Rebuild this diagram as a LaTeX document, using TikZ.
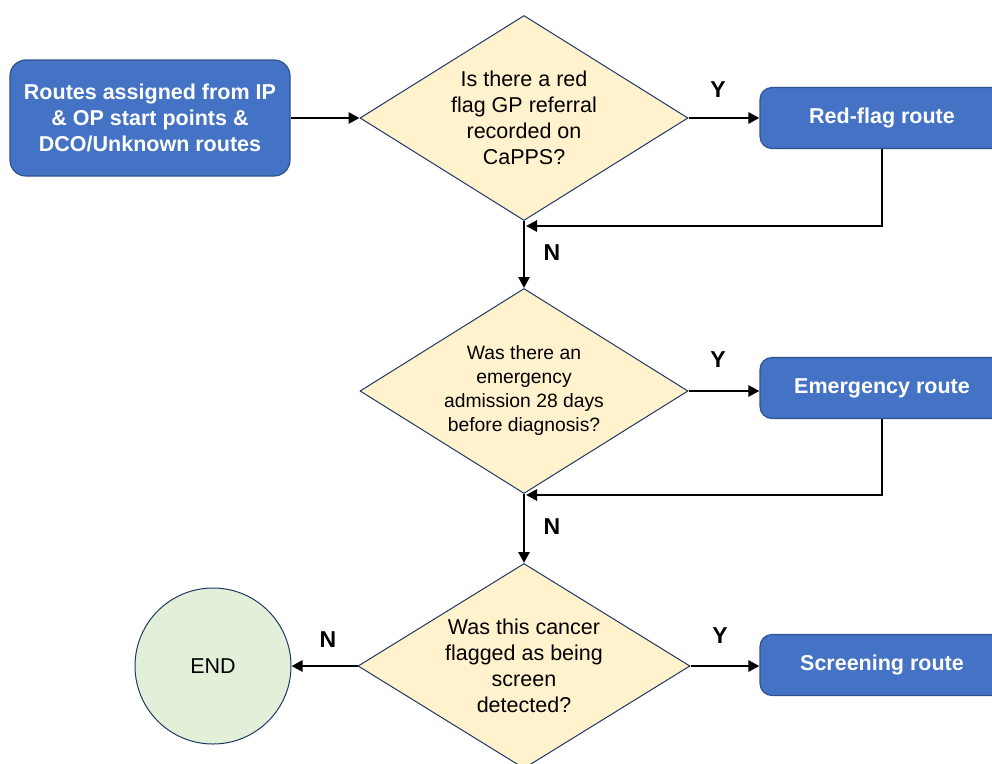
\documentclass[tikz,border=0pt]{standalone}
\usepackage{fontspec}
\setmainfont{Liberation Sans}
\usetikzlibrary{shapes.geometric,arrows.meta}
\definecolor{boxblue}{HTML}{4472C4}
\definecolor{boxedge}{HTML}{2F528F}
\definecolor{qfill}{HTML}{FFF2CC}
\definecolor{qedge}{HTML}{203864}
\definecolor{endfill}{HTML}{E2F0D9}

\begin{document}
\begin{tikzpicture}[x=1pt,y=-1pt,
  routebox/.style={draw=boxedge, line width=1.2pt, fill=boxblue, rounded corners=12pt,
    text=white, font=\fontsize{21.5}{26}\selectfont\bfseries, align=center,
    inner sep=0pt, minimum width=244pt, minimum height=61pt},
  startbox/.style={routebox, rounded corners=16pt, minimum width=280pt, minimum height=116pt},
  question/.style={diamond, draw=qedge, line width=1pt, fill=qfill, aspect=1.6,
    inner sep=0pt, minimum width=328pt, minimum height=205pt, align=center,
    font=\fontsize{21.5}{26}\selectfont},
  smallq/.style={question, font=\fontsize{19.3}{24}\selectfont},
  endnode/.style={circle, draw=qedge, line width=1pt, fill=endfill, minimum size=156pt,
    inner sep=0pt, font=\fontsize{21.5}{26}\selectfont},
  conn/.style={line width=2.7pt, -{Triangle[length=11pt,width=11pt]}},
  lbl/.style={font=\fontsize{23}{26}\selectfont\bfseries}
]
\useasboundingbox (0,0) rectangle (992,763);
\clip (0,0) rectangle (992,763);

% start and decision nodes
\node[startbox] (start) at (150,118) {Routes assigned from IP\\ \& OP start points \&\\ DCO/Unknown routes};
\node[question] (d1) at (524,118) {Is there a red\\ flag GP referral\\ recorded on\\ CaPPS?};
\node[smallq] (d2) at (524,391) {Was there an\\ emergency\\ admission 28 days\\ before diagnosis?};
\node[question, minimum width=332pt] (d3) at (524,666) {Was this cancer\\ flagged as being\\ screen\\ detected?};

% outcome routes
\node[routebox] (rf) at (882,118) {Red-flag route};
\node[routebox] (er) at (882,388) {Emergency route};
\node[routebox] (sr) at (882,665) {Screening route};
\node[endnode] (end) at (213,666) {END};

% junctions where the routes rejoin the main line
\coordinate (j1) at (526,226);
\coordinate (j2) at (526,495);

% connectors
\draw[conn] (start.east |- d1.west) -- (d1.west);
\draw[conn] (d1.east) -- (rf.west |- d1.east);
\draw[conn] (rf.south) |- (j1);
\draw[conn] (d1.south) -- (d2.north);
\draw[conn] (d2.east) -- (er.west |- d2.east);
\draw[conn] (er.south) |- (j2);
\draw[conn] (d2.south) -- (d3.north);
\draw[conn] (d3.east) -- (sr.west |- d3.east);
\draw[conn] (d3.west) -- (end.east);

% branch labels
\node[lbl] (y1) at (718,90) {Y};
\node[lbl] (n1) at (552,253) {N};
\node[lbl] (y2) at (718,360) {Y};
\node[lbl] (n2) at (552,527) {N};
\node[lbl] (y3) at (720,636) {Y};
\node[lbl] (n3) at (328,640) {N};
\end{tikzpicture}
\end{document}
